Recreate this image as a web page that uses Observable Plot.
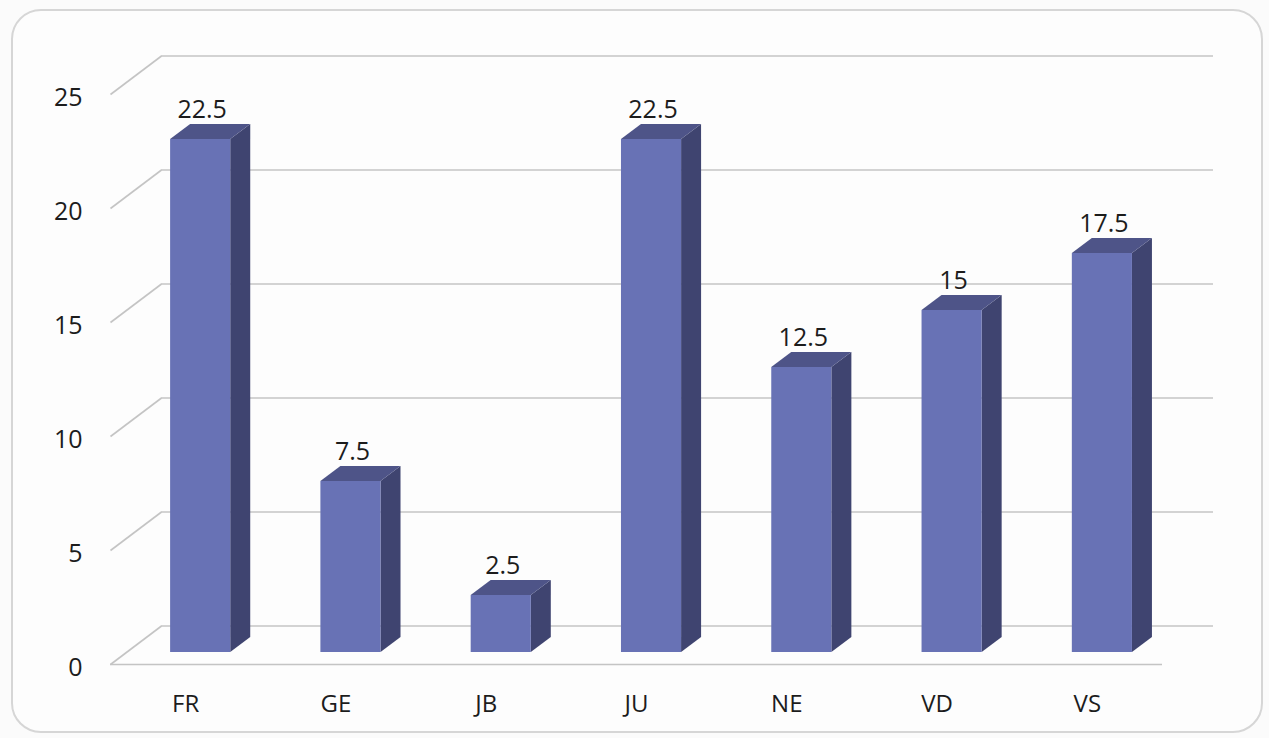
<!DOCTYPE html>
<html>
<head>
<meta charset="utf-8">
<script src="https://cdn.jsdelivr.net/npm/d3@7"></script>
<script src="https://cdn.jsdelivr.net/npm/@observablehq/plot@0.6"></script>
<style>
  html, body { margin: 0; padding: 0; background: #fbfbfb; }
  #wrap { position: relative; width: 1269px; height: 738px; overflow: hidden; }
  #frame { position: absolute; left: 11px; top: 9px; width: 1252px; height: 724px;
           border: 2px solid #d6d6d6; border-radius: 30px; background: #fdfdfd; box-sizing: border-box; }
  #chart { position: absolute; left: 0; top: 0; }
</style>
</head>
<body>
<div id="wrap"><div id="frame"></div><div id="chart"></div></div>
<script>
// ---- data ----
const categories = ["FR", "GE", "JB", "JU", "NE", "VD", "VS"];
const values = [22.5, 7.5, 2.5, 22.5, 12.5, 15, 17.5];
const yTicks = [0, 5, 10, 15, 20, 25];

// ---- 3D projection parameters (in scale units) ----
const pxX = 1052 / 7;      // px per category unit
const pxY = 570 / 25;      // px per value unit
const backDX = 51 / pxX, backDY = 38.5 / pxY;   // back wall offset
const barX0 = 0.40, barX1 = 0.80;               // front face within category slot
const barBase = 12 / pxY;                       // bar bottom above front floor
const depthDX = 20 / pxX, depthDY = 15 / pxY;   // bar depth

const bars = categories.map((c, i) => ({c, i, v: values[i]}));

// faces
const frontFaces = bars.map(d => ({c: d.c, x1: d.i + barX0, x2: d.i + barX1, y1: barBase, y2: barBase + d.v}));
const sideFaces = bars.flatMap(d => [
  {c: d.c, x: d.i + barX1, y1: barBase, y2: barBase + d.v},
  {c: d.c, x: d.i + barX1 + depthDX, y1: barBase + depthDY, y2: barBase + d.v + depthDY}
]);
const topFaces = bars.flatMap(d => {
  const t = barBase + d.v, xl = d.i + barX0, xr = d.i + barX1;
  return [
    {c: d.c, x: xl, y1: t, y2: t},
    {c: d.c, x: xl + depthDX, y1: t, y2: t + depthDY},
    {c: d.c, x: xr, y1: t, y2: t + depthDY},
    {c: d.c, x: xr + depthDX, y1: t + depthDY, y2: t + depthDY}
  ];
});

const grid = yTicks.map(v => ({v}));
const font = "'Open Sans', sans-serif";

const chart = Plot.plot({
  width: 1269,
  height: 738,
  marginLeft: 110,
  marginRight: 107,
  marginTop: 94,
  marginBottom: 74,
  style: {background: "transparent", fontFamily: font},
  x: {domain: [0, 7], axis: null},
  y: {domain: [0, 25], axis: null},
  marks: [
    // back wall gridlines
    Plot.ruleY(grid, {y: d => d.v + backDY, x1: backDX, x2: 7 + backDX, stroke: "#c4c4c4", strokeWidth: 1.6}),
    // diagonal tick lines on left side
    Plot.link(grid, {x1: 0, y1: d => d.v, x2: backDX, y2: d => d.v + backDY, stroke: "#c4c4c4", strokeWidth: 1.6}),
    // floor front edge
    Plot.ruleY([0], {x1: 0, x2: 7, stroke: "#c4c4c4", strokeWidth: 1.6}),
    // bars
    Plot.areaY(sideFaces, {x: "x", y1: "y1", y2: "y2", z: "c", fill: "#3f4470", curve: "linear"}),
    Plot.areaY(topFaces, {x: "x", y1: "y1", y2: "y2", z: "c", fill: "#4e5488", curve: "linear"}),
    Plot.rect(frontFaces, {x1: "x1", x2: "x2", y1: "y1", y2: "y2", fill: "#6872b5"}),
    // value labels
    Plot.text(bars, {x: d => d.i + (barX0 + barX1) / 2 + 0.01, y: d => barBase + d.v + depthDY, text: d => String(d.v),
      dy: -15, fontSize: 25, fill: "#1c1c1c", fontFamily: font}),
    // category labels
    Plot.text(bars, {x: d => d.i + 0.5, y: 0, text: "c", dy: 40, fontSize: 24, fill: "#1c1c1c", fontFamily: font}),
    // y tick labels
    Plot.text(grid, {x: 0, y: "v", text: d => String(d.v), dx: -28, dy: 3, textAnchor: "end", fontSize: 25, fill: "#1c1c1c", fontFamily: font})
  ]
});
document.getElementById("chart").appendChild(chart);
</script>
</body>
</html>
